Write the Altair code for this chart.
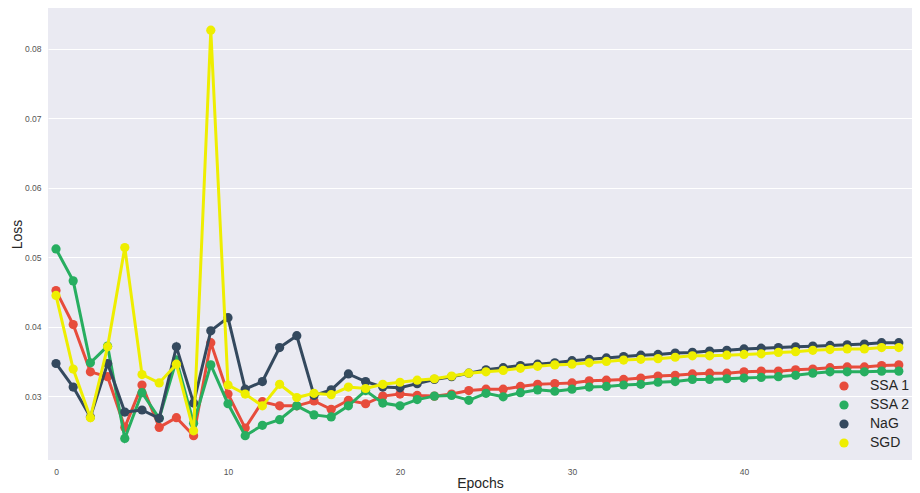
import altair as alt
import pandas as pd

epochs = list(range(50))
series_names = ["SSA 1", "SSA 2", "NaG", "SGD"]
colors = ["#e74c3c", "#27ae60", "#34495e", "#eeee00"]

ssa1 = [0.0452, 0.0403, 0.0335, 0.0328, 0.0255, 0.0316, 0.0255, 0.0269, 0.0243, 0.0377,
        0.0303, 0.0254, 0.0292, 0.0286, 0.0286, 0.0293, 0.0281, 0.0294, 0.0289, 0.0300,
        0.0303, 0.0301, 0.0300, 0.0303, 0.0308, 0.0310, 0.0310, 0.0314, 0.0317, 0.0318,
        0.0319, 0.0322, 0.0323, 0.0324, 0.0326, 0.0329, 0.0330, 0.0332, 0.0333, 0.0333,
        0.0335, 0.0336, 0.0336, 0.0338, 0.0339, 0.0341, 0.0342, 0.0342, 0.0344, 0.0345]
ssa2 = [0.0512, 0.0466, 0.0348, 0.0372, 0.0239, 0.0305, 0.0268, 0.0352, 0.0261, 0.0345,
        0.0289, 0.0243, 0.0258, 0.0266, 0.0286, 0.0273, 0.0270, 0.0286, 0.0308, 0.0290,
        0.0286, 0.0295, 0.0300, 0.0301, 0.0294, 0.0304, 0.0299, 0.0305, 0.0309, 0.0307,
        0.0310, 0.0313, 0.0314, 0.0316, 0.0317, 0.0320, 0.0321, 0.0324, 0.0324, 0.0325,
        0.0326, 0.0327, 0.0328, 0.0330, 0.0333, 0.0335, 0.0335, 0.0335, 0.0336, 0.0336]
nag = [0.0347, 0.0313, 0.0270, 0.0347, 0.0277, 0.0280, 0.0268, 0.0371, 0.0290, 0.0394,
       0.0413, 0.0310, 0.0321, 0.0370, 0.0387, 0.0301, 0.0309, 0.0332, 0.0321, 0.0313,
       0.0312, 0.0318, 0.0324, 0.0328, 0.0333, 0.0338, 0.0341, 0.0344, 0.0346, 0.0348,
       0.0351, 0.0353, 0.0355, 0.0357, 0.0359, 0.0360, 0.0362, 0.0363, 0.0365, 0.0366,
       0.0368, 0.0369, 0.0370, 0.0371, 0.0372, 0.0373, 0.0374, 0.0375, 0.0377, 0.0377]
sgd = [0.0445, 0.0339, 0.0269, 0.0371, 0.0514, 0.0331, 0.0319, 0.0346, 0.0250, 0.0827,
       0.0316, 0.0303, 0.0286, 0.0317, 0.0298, 0.0304, 0.0302, 0.0313, 0.0311, 0.0317,
       0.0320, 0.0323, 0.0325, 0.0329, 0.0333, 0.0335, 0.0337, 0.0340, 0.0343, 0.0345,
       0.0346, 0.0348, 0.0350, 0.0352, 0.0353, 0.0354, 0.0356, 0.0358, 0.0358, 0.0359,
       0.0360, 0.0361, 0.0363, 0.0364, 0.0366, 0.0367, 0.0368, 0.0368, 0.0370, 0.0370]

x_ticks = [0, 10, 20, 30, 40, 50]
y_ticks = [0.03, 0.04, 0.05, 0.06, 0.07, 0.08]

values = [ssa1, ssa2, nag, sgd]
frames = []
for name, vals in zip(series_names, values):
    frames.append(pd.DataFrame({"Epochs": epochs, "Loss": vals, "series": name}))

color_scale = alt.Scale(domain=series_names, range=colors)
legend = alt.Legend(title=None, orient="none", legendX=789, legendY=371,
                    symbolType="circle", symbolSize=85,
                    labelFontSize=14, labelColor="#262626",
                    labelFont="Liberation Sans", rowPadding=5,
                    labelOffset=19, padding=0, symbolStrokeWidth=0,
                    symbolOpacity=1)
color_enc = alt.Color("series:N", scale=color_scale, legend=legend)

x_enc = alt.X("Epochs:Q", scale=alt.Scale(domain=[-0.465, 49.767], nice=False, zero=False),
              axis=alt.Axis(values=x_ticks, format="d", grid=False, ticks=False, domain=False,
                            labelFontSize=8.5, labelColor="#555555", labelPadding=7,
                            title="Epochs", titleFontSize=14, titleFontWeight="normal",
                            titleColor="#262626", titlePadding=1))
y_enc = alt.Y("Loss:Q", scale=alt.Scale(domain=[0.0208, 0.0859], nice=False, zero=False),
              axis=alt.Axis(values=y_ticks, format=".2f", grid=True, gridColor="white",
                            gridWidth=1, ticks=False, domain=False,
                            labelFontSize=8.5, labelColor="#555555", labelPadding=7,
                            title="Loss", titleFontSize=14, titleFontWeight="normal",
                            titleColor="#262626", titlePadding=0))

layers = []
for i, df in enumerate(frames):
    line = alt.Chart(df).mark_line(strokeWidth=3).encode(x=x_enc, y=y_enc, color=color_enc)
    pts = alt.Chart(df).mark_point(filled=True, size=85, opacity=1).encode(
        x=x_enc, y=y_enc, color=color_enc)
    layers += [line, pts]

chart = alt.layer(*layers).properties(
    width=864, height=452,
    autosize=alt.AutoSizeParams(type="none"),
    padding={"left": 40, "top": 0, "right": 0, "bottom": 33},
    background="white",
).configure(font="Liberation Sans").configure_view(fill="#EAEAF2", stroke=None)

chart.save("out.html", embed_options={"renderer": "svg", "actions": False})
